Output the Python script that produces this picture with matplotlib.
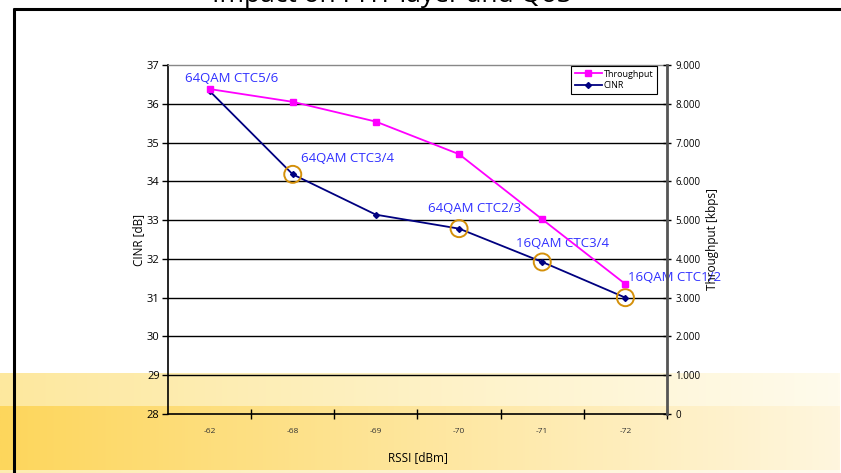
import numpy as np
import matplotlib
matplotlib.use("Agg")
import matplotlib.pyplot as plt
from matplotlib.ticker import FixedLocator, FuncFormatter

plt.rcParams['font.family'] = ['Open Sans', 'DejaVu Sans']

# RSSI categories and the two measured series
rssi = ['-62', '-68', '-69', '-70', '-71', '-72']
cinr = [36.33, 34.18, 33.14, 32.78, 31.92, 31.0]
throughput = [8380, 8050, 7540, 6700, 5020, 3350]

# modulation / coding scheme labels: (category index, CINR level, text)
mcs_x = [-0.30, 1.10, 2.63, 3.69, 5.03]
mcs_y = [36.66, 34.58, 33.31, 32.40, 31.51]
mcs_text = ['64QAM CTC5/6', '64QAM CTC3/4', '64QAM CTC2/3', '16QAM CTC3/4', '16QAM CTC1/2']
circled = [1, 3, 4, 5]

W, H = 841, 473
fig = plt.figure(figsize=(W / 100, H / 100), dpi=100)
fig.patch.set_facecolor('white')

# slide background: yellow gradient bands, frame and title
bg = fig.add_axes([0, 0, 1, 1], zorder=0)
bg.set_xlim(0, W)
bg.set_ylim(H, 0)
bg.axis('off')

def band(y0, y1, left, right, x1=840):
    t = np.linspace(0, 1, 256)[None, :, None]
    c0 = np.array(left)[None, None, :] / 255
    c1 = np.array(right)[None, None, :] / 255
    img = c0 + (c1 - c0) * t
    bg.imshow(img, extent=(0, x1, y1, y0), aspect='auto', interpolation='bilinear', zorder=0)

band(374, 406, (253, 232, 158), (255, 251, 236))
band(406, 470, (253, 214, 92), (255, 246, 222))
band(470, 473, (253, 236, 176), (255, 250, 238))
bg.set_xlim(0, W)
bg.set_ylim(H, 0)

bg.plot([14, 14], [8, H], color='black', lw=2.2, solid_capstyle='butt', zorder=2)
bg.plot([13, W], [9, 9], color='black', lw=2.2, solid_capstyle='butt', zorder=2)
bg.text(392, 2, 'Impact on PHY layer and QoS', fontsize=19, ha='center', va='baseline',
        color='black', zorder=1)

# chart
ax = fig.add_axes([168 / W, 1 - 414 / H, 499 / W, 349 / H], zorder=1)
ax.patch.set_alpha(0)
x = np.arange(len(rssi))

ax.set_xlim(-0.5, len(rssi) - 0.5)
ax.set_ylim(28, 37)
ax.yaxis.set_major_locator(FixedLocator(range(28, 38)))
for v in range(29, 37):
    ax.axhline(v, color='black', lw=1.0, zorder=1)

ax.set_xticks(x)
ax.set_xticklabels(rssi, fontsize=6)
ax.set_xticks(np.arange(0.5, len(rssi) - 0.5 + 0.01, 1), minor=True)
ax.tick_params(axis='x', which='major', length=0, pad=10, colors='#333333')
ax.tick_params(axis='x', which='minor', direction='inout', length=7, width=1, color='black')
ax.tick_params(axis='y', direction='out', length=4, width=1, labelsize=8, pad=2)

for s in ['left', 'bottom']:
    ax.spines[s].set_color('black')
    ax.spines[s].set_linewidth(1.2)
ax.spines['top'].set_color('#888888')
ax.spines['top'].set_linewidth(1.0)
ax.spines['right'].set_visible(False)

ax.set_ylabel('CINR [dB]', fontsize=8.5, labelpad=1)
ax.set_xlabel('RSSI [dBm]', fontsize=8.5, labelpad=12)

l_cinr, = ax.plot(x, cinr, color='#000080', lw=1.3, marker='D', markersize=3, zorder=4, label='CINR')
ax.scatter(x[circled], np.array(cinr)[circled], s=150, facecolors='none',
           edgecolors='#d4900a', linewidths=1.4, zorder=5)
for tx, ty, t in zip(mcs_x, mcs_y, mcs_text):
    ax.text(tx, ty, t, fontsize=9.5, color='#3030ff', va='center', ha='left', zorder=6)

ax2 = ax.twinx()
ax2.patch.set_alpha(0)
ax2.set_ylim(0, 9000)
ax2.yaxis.set_major_locator(FixedLocator(range(0, 9001, 1000)))
ax2.yaxis.set_major_formatter(FuncFormatter(lambda v, p: f"{int(v):,}".replace(',', '.')))
ax2.tick_params(axis='y', direction='inout', length=6, width=1, labelsize=7, pad=3)
for s in ['left', 'top', 'bottom']:
    ax2.spines[s].set_visible(False)
ax2.spines['right'].set_color('#555555')
ax2.spines['right'].set_linewidth(2)
ax2.set_ylabel('Throughput [kbps]', fontsize=8.5, labelpad=4)

l_tp, = ax2.plot(x, throughput, color='#ff00ff', lw=1.3, marker='s', markersize=4, zorder=4,
                 label='Throughput')

leg = ax2.legend(handles=[l_tp, l_cinr], loc='upper right', bbox_to_anchor=(1 - 10 / 499, 1 - 1 / 349),
                 borderaxespad=0, fontsize=6.5, fancybox=False, framealpha=1, edgecolor='black',
                 handlelength=3, handletextpad=0.2, labelspacing=0.3, borderpad=0.4)
leg.get_frame().set_linewidth(0.8)

fig.savefig('out.png', dpi=100)
